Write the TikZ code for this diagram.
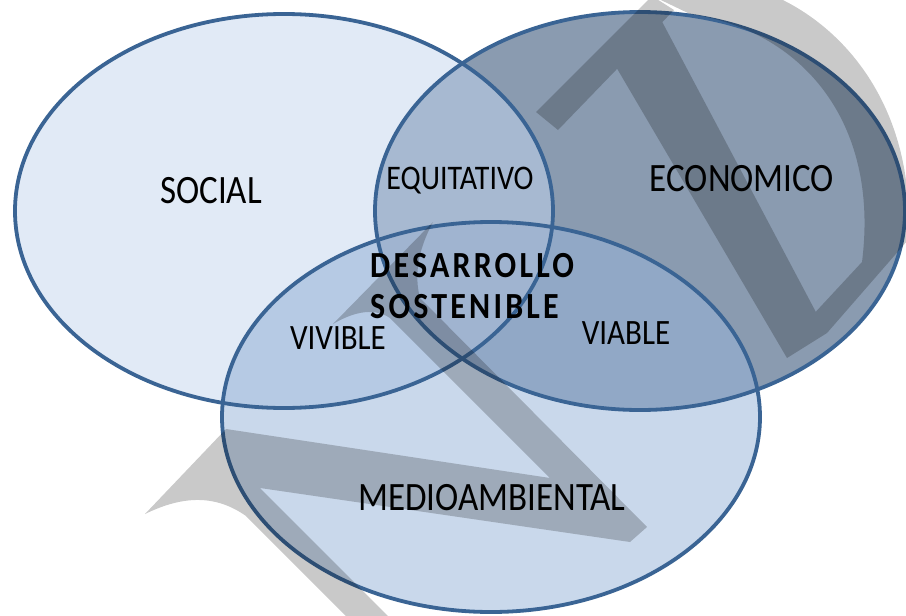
\documentclass[tikz,border=0pt]{standalone}
\usepackage{fontspec}
\setmainfont{Carlito}
\definecolor{cS}{HTML}{E1EAF6}
\definecolor{cE}{HTML}{8A9BB0}
\definecolor{cM}{HTML}{C9D8EB}
\definecolor{cSE}{HTML}{A7B9D1}
\definecolor{cSM}{HTML}{B6CAE4}
\definecolor{cEM}{HTML}{91A8C6}
\definecolor{cSEM}{HTML}{A0B4D0}
\definecolor{cLine}{HTML}{3A6494}
\begin{document}
\begin{tikzpicture}[x=1pt,y=-1pt,
  rim/.style={draw=cLine,line width=3.8pt},
  lbl/.style={inner sep=0pt,yscale=1.15,text=black},
  wm/.style={fill=black,fill opacity=0.21}]
\useasboundingbox (0,0) rectangle (906,616);
\fill[white] (0,0) rectangle (906,616);
\def\soc{(284,211) ellipse [x radius=269pt, y radius=197pt]}
\def\eco{(640,211) ellipse [x radius=265pt, y radius=199pt]}
\def\med{(491,417) ellipse [x radius=269pt, y radius=195pt]}
% base fills
\fill[cS] \soc;
\fill[cE] \eco;
\fill[cM] \med;
\begin{scope}\clip \soc; \fill[cSE] \eco; \fill[cSM] \med; \end{scope}
\begin{scope}\clip \eco; \fill[cEM] \med; \end{scope}
\begin{scope}\clip \soc; \clip \eco; \fill[cSEM] \med; \end{scope}
% outlines
\draw[rim] \soc;
\draw[rim] \eco;
\draw[rim] \med;
% watermark: one path, nonzero union
\fill[wm]
  % N
  (145,514) -- (226,429) -- (550,478) -- (390,318)
  .. controls (372,306) and (350,314) .. (333,324)
  -- (433,222) .. controls (418,250) and (414,275) .. (420,298)
  -- (647,527) -- (630,542) -- (260,488) -- (430,658) -- (388,658)
  -- (246,516) .. controls (212,492) and (178,498) .. (145,514) -- cycle
  % P cross stroke
  (536,112) -- (652,-4) -- (674,10) -- (558,130) -- cycle
  % P stem
  (612,60) -- (658,14) -- (827,333) -- (787,358) -- cycle
  % P bowl
  (640,-10) .. controls (755,-55) and (920,45) .. (908,240)
  -- (827,333) -- (810,318) -- (862,262)
  .. controls (880,120) and (800,30) .. (690,14) -- cycle;
% labels
\node[lbl,font=\fontsize{35}{40}\selectfont] (social) at (211,191) {SOCIAL};
\node[lbl,font=\fontsize{30}{34}\selectfont] (equit) at (460,181) {EQUITATIVO};
\node[lbl,font=\fontsize{35}{40}\selectfont] (econ) at (742,179) {ECONOMICO};
\node[lbl,font=\fontsize{35}{40}\selectfont] (medio) at (492,498) {MEDIOAMBIENTAL};
\node[lbl,font=\fontsize{31}{36}\selectfont] (vivible) at (338,338) {VIVIBLE};
\node[lbl,font=\fontsize{31}{36}\selectfont] (viable) at (626,333) {VIABLE};
\node[lbl,anchor=west,font=\bfseries\addfontfeature{LetterSpace=10}\fontsize{32}{36}\selectfont] (des) at (370,266) {DESARROLLO};
\node[lbl,anchor=west,font=\bfseries\addfontfeature{LetterSpace=10}\fontsize{32}{36}\selectfont] (sos) at (370,307) {SOSTENIBLE};
\end{tikzpicture}
\end{document}
